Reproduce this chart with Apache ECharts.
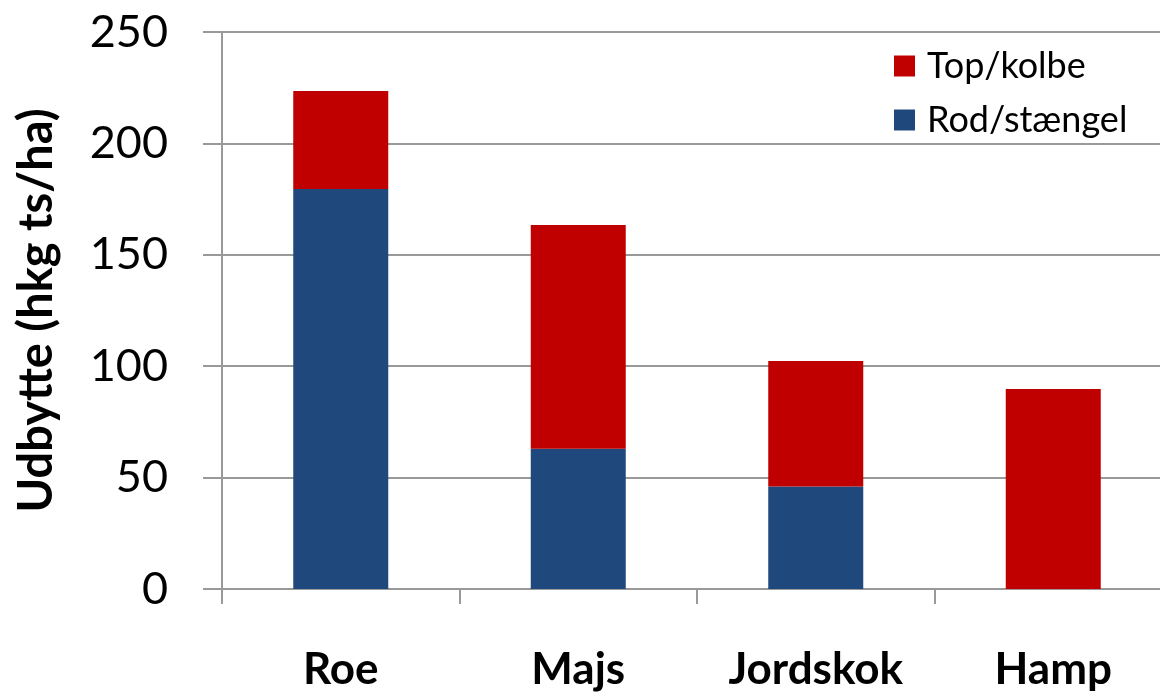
<!DOCTYPE html>
<html>
<head>
<meta charset="utf-8">
<script src="https://cdn.jsdelivr.net/npm/echarts@6/dist/echarts.min.js"></script>
<style>
  html, body { margin: 0; padding: 0; background: #fff; overflow: hidden; }
  /* plot area runs a bit past the right edge of the window, like the original */
  #chart { width: 1172px; height: 698px; }
</style>
</head>
<body>
<div id="chart"></div>
<script>
// kategorier og værdier
const categories = ['Roe', 'Majs', 'Jordskok', 'Hamp']
const rodValues = [179.5, 63, 46, 0]
const topValues = [44, 100.4, 56.3, 89.8]
const yTicks = { min: 0, max: 250, interval: 50 }

const fontFamily = 'Lato, "Open Sans", sans-serif'
const axisGrey = '#999999'

const chart = echarts.init(document.getElementById('chart'))

const option = {
  animation: false,
  textStyle: { fontFamily: fontFamily },
  grid: {
    left: 222,
    top: 32,
    bottom: 109,
    right: 0,
  },
  legend: {
    orient: 'vertical',
    left: 889,
    top: 40,
    itemWidth: 21,
    itemHeight: 21,
    itemGap: 12,
    icon: 'rect',
    data: ['Top/kolbe', 'Rod/stængel'],
    textStyle: {
      fontFamily: fontFamily,
      fontSize: 36,
      color: '#000',
      lineHeight: 42,
      padding: [0, 0, 0, 7],
    },
  },
  xAxis: {
    type: 'category',
    data: categories,
    axisLine: { lineStyle: { color: axisGrey, width: 2 } },
    axisTick: { show: true, length: 15, lineStyle: { color: axisGrey, width: 2 } },
    axisLabel: {
      margin: 59,
      fontSize: 44,
      fontWeight: 'bold',
      color: '#000',
      fontFamily: fontFamily,
    },
  },
  yAxis: {
    type: 'value',
    min: yTicks.min,
    max: yTicks.max,
    interval: yTicks.interval,
    name: 'Udbytte (hkg ts/ha)',
    nameLocation: 'middle',
    nameGap: 162,
    nameTextStyle: {
      fontSize: 47,
      fontWeight: 'bold',
      color: '#000',
      fontFamily: fontFamily,
    },
    axisLine: { show: true, lineStyle: { color: axisGrey, width: 2 } },
    axisTick: { show: true, length: 19, lineStyle: { color: axisGrey, width: 2 } },
    splitLine: { show: true, lineStyle: { color: axisGrey, width: 2 } },
    axisLabel: {
      margin: 54,
      fontSize: 45,
      color: '#000',
      fontFamily: fontFamily,
    },
  },
  series: [
    {
      name: 'Rod/stængel',
      type: 'bar',
      stack: 'total',
      barWidth: '40%',
      itemStyle: { color: '#1F497D' },
      data: rodValues,
    },
    {
      name: 'Top/kolbe',
      type: 'bar',
      stack: 'total',
      barWidth: '40%',
      itemStyle: { color: '#C00000' },
      data: topValues,
    },
  ],
}

chart.setOption(option)
</script>
</body>
</html>
